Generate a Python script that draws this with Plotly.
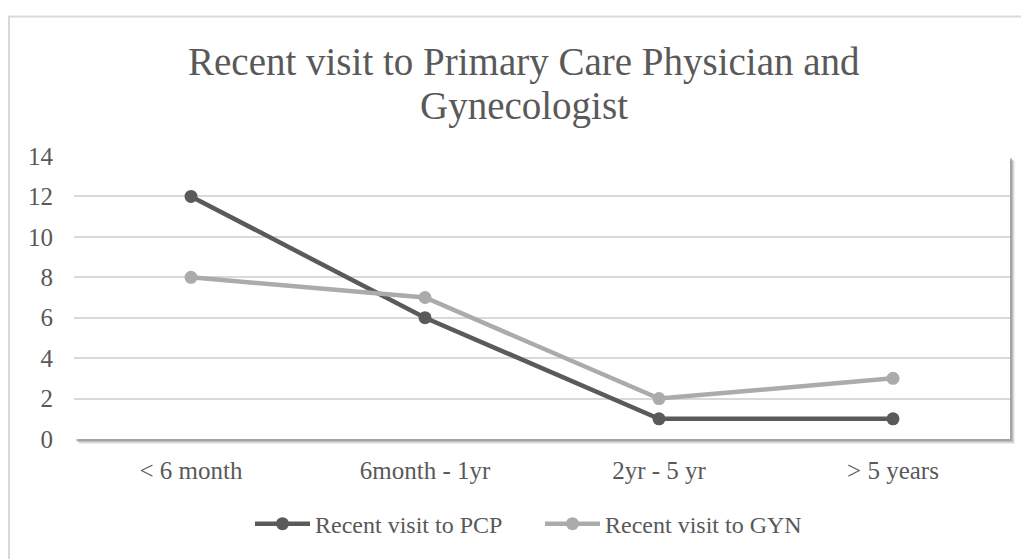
import plotly.graph_objects as go

categories = ["< 6 month", "6month - 1yr", "2yr - 5 yr", "> 5 years"]
pcp_values = [12, 6, 1, 1]
gyn_values = [8, 7, 2, 3]
y_ticks = [0, 2, 4, 6, 8, 10, 12, 14]
title_lines = ["Recent visit to Primary Care Physician and", "Gynecologist"]

FONT = "Liberation Serif"
TXT = "#595959"

fig = go.Figure()
fig.add_trace(go.Scatter(
    x=categories, y=pcp_values, mode="lines+markers", name="Recent visit to PCP",
    line=dict(color="#5a5a5a", width=4.5), marker=dict(size=13, color="#5a5a5a"),
    legend="legend",
))
fig.add_trace(go.Scatter(
    x=categories, y=gyn_values, mode="lines+markers", name="Recent visit to GYN",
    line=dict(color="#ababab", width=4.5), marker=dict(size=13, color="#ababab"),
    legend="legend2",
))

OFF = 8  # default page body margin
W, H = 1029 - OFF, 559 - OFF
# plot area in page pixels
L, R, T, B = 74, 1010, 156, 442
pw, ph = R - L, B - T

def px_x(p):
    return (p - L) / pw

def px_y(p):
    return (B - p) / ph

shapes = []
# outer chart border (top and left visible)
shapes.append(dict(type="rect", xref="paper", yref="paper",
                   x0=px_x(9), x1=px_x(1080), y0=px_y(620), y1=px_y(15),
                   line=dict(color="#d9d9d9", width=2), fillcolor="rgba(0,0,0,0)", layer="below"))
# plot-area shadow
for off, op in [(5, 0.10), (4, 0.14), (3, 0.2), (2, 0.28)]:
    shapes.append(dict(type="rect", xref="paper", yref="paper",
                       x0=px_x(L + off), x1=px_x(R + off), y0=px_y(B + off), y1=px_y(T + off),
                       line=dict(width=0), fillcolor=f"rgba(90,90,90,{op})", layer="below"))
shapes.append(dict(type="rect", xref="paper", yref="paper",
                   x0=0, x1=1, y0=0, y1=1,
                   line=dict(width=0), fillcolor="white", layer="below"))

annotations = []
for line, yc in zip(title_lines, [61, 105]):
    annotations.append(dict(text=line, xref="paper", yref="paper",
                            x=px_x(524), xanchor="center", y=px_y(yc), yanchor="middle",
                            showarrow=False, font=dict(family=FONT, size=39, color=TXT)))

legend_common = dict(orientation="h", yanchor="middle", y=px_y(528),
                     font=dict(family=FONT, size=24, color=TXT), itemwidth=55,
                     bgcolor="rgba(0,0,0,0)", xanchor="left")

fig.update_layout(
    width=W, height=H,
    margin=dict(l=L - OFF, r=W - (R - OFF), t=T - OFF, b=H - (B - OFF)),
    paper_bgcolor="white", plot_bgcolor="rgba(0,0,0,0)",
    font=dict(family=FONT, color=TXT, size=25),
    showlegend=True,
    legend=dict(x=px_x(250), **legend_common),
    legend2=dict(x=px_x(540), **legend_common),
    shapes=shapes,
    annotations=annotations,
    xaxis=dict(range=[-0.5, 3.5], showgrid=False, zeroline=False, showline=False,
               ticks="", ticklabelstandoff=14, tickfont=dict(size=25, color=TXT)),
    yaxis=dict(range=[0, 14], tickvals=y_ticks, showgrid=True, gridcolor="#d9d9d9",
               gridwidth=1.5, zeroline=False, showline=False, ticks="",
               ticklabelstandoff=20, tickfont=dict(size=25, color=TXT)),
)

fig.write_html("out.html")
